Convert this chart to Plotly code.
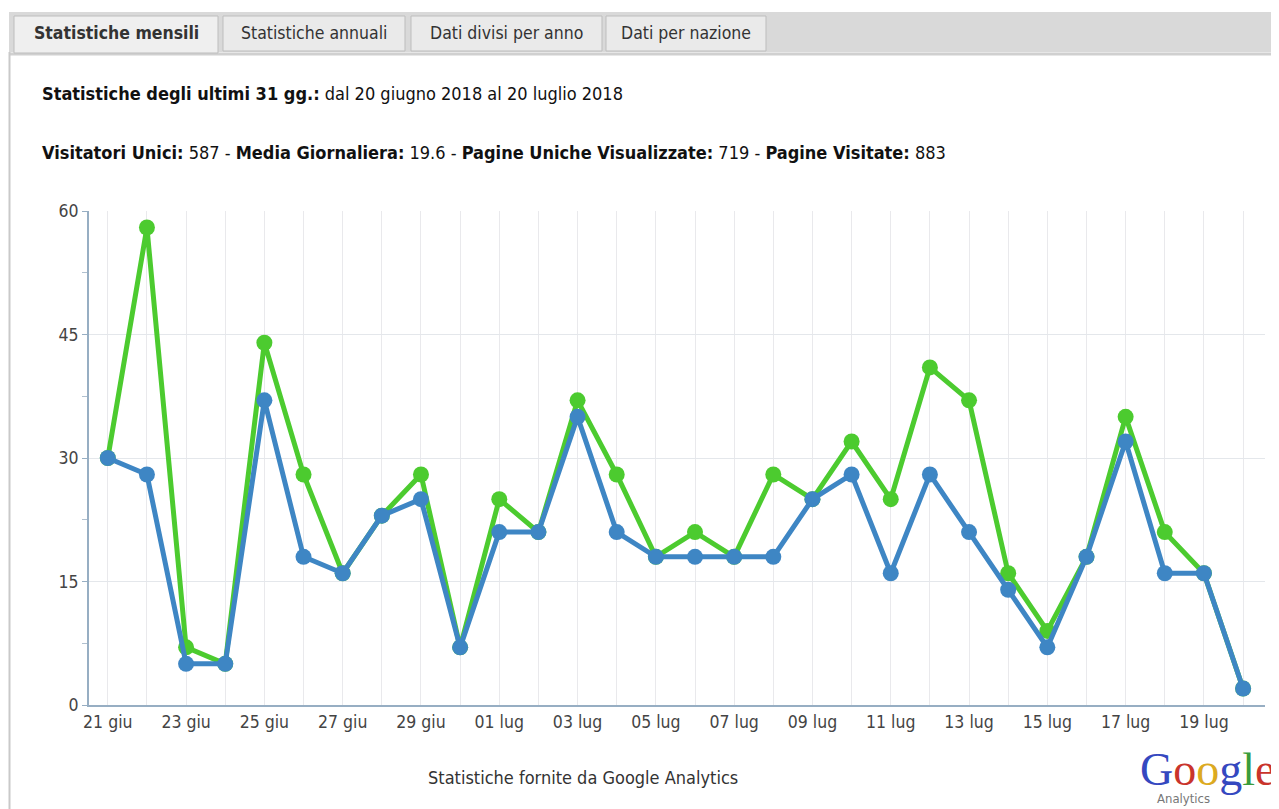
import plotly.graph_objects as go

# ---- data ----
dates = ["21 giu", "22 giu", "23 giu", "24 giu", "25 giu", "26 giu", "27 giu", "28 giu", "29 giu", "30 giu",
         "01 lug", "02 lug", "03 lug", "04 lug", "05 lug", "06 lug", "07 lug", "08 lug", "09 lug", "10 lug",
         "11 lug", "12 lug", "13 lug", "14 lug", "15 lug", "16 lug", "17 lug", "18 lug", "19 lug", "20 lug"]
visitatori_unici = [30, 28, 5, 5, 37, 18, 16, 23, 25, 7,
                    21, 21, 35, 21, 18, 18, 18, 18, 25, 28,
                    16, 28, 21, 14, 7, 18, 32, 16, 16, 2]
pagine_uniche = [30, 58, 7, 5, 44, 28, 16, 23, 28, 7,
                 25, 21, 37, 28, 18, 21, 18, 28, 25, 32,
                 25, 41, 37, 16, 9, 18, 35, 21, 16, 2]
y_ticks = [0, 15, 30, 45, 60]
tabs = ["Statistiche mensili", "Statistiche annuali", "Dati divisi per anno", "Dati per nazione"]

GREEN = "#4ccb2f"
BLUE = "#3e86c4"

OFF = 8  # page body margin
W, H = 1279 - OFF, 809 - OFF
L, R, T, B = 89 - OFF, 14, 211 - OFF, 104
PW, PH = W - L - R, H - T - B


def px(x):
    return (x - OFF - L) / PW


def py(y):
    return (H + OFF - B - y) / PH


idx = list(range(len(dates)))
ticktext = [d if i % 2 == 0 else "" for i, d in enumerate(dates)]

FONT = "DejaVu Sans Condensed, Liberation Sans Narrow, DejaVu Sans, sans-serif"

fig = go.Figure()
fig.add_trace(go.Scatter(x=idx, y=pagine_uniche, mode="lines+markers",
                         line=dict(color=GREEN, width=5), marker=dict(color=GREEN, size=16),
                         name="Pagine Uniche", hoverinfo="skip"))
fig.add_trace(go.Scatter(x=idx, y=visitatori_unici, mode="lines+markers",
                         line=dict(color=BLUE, width=5), marker=dict(color=BLUE, size=16),
                         name="Visitatori Unici", hoverinfo="skip"))

shapes = []
# tab bar
shapes.append(dict(type="rect", xref="paper", yref="paper", x0=px(9), x1=px(1290), y0=py(52), y1=py(12),
                   fillcolor="#d9d9d9", line=dict(width=0), layer="below"))
shapes.append(dict(type="line", xref="paper", yref="paper", x0=px(9), x1=px(1290), y0=py(54), y1=py(54),
                   line=dict(color="#d0d0d0", width=3), layer="below"))
# panel left border
shapes.append(dict(type="line", xref="paper", yref="paper", x0=px(9.5), x1=px(9.5), y0=py(52), y1=py(815),
                   line=dict(color="#c9c9c9", width=2), layer="below"))
tab_x = [(14, 218), (223, 405), (411, 602), (606, 766)]
for i, (a, b) in enumerate(tab_x):
    if i == 0:
        shapes.append(dict(type="rect", xref="paper", yref="paper", x0=px(a), x1=px(b), y0=py(53), y1=py(16),
                           fillcolor="#efefef", line=dict(color="#bdbdbd", width=1), layer="below"))
    else:
        shapes.append(dict(type="rect", xref="paper", yref="paper", x0=px(a), x1=px(b), y0=py(51), y1=py(16),
                           fillcolor="#eaeaea", line=dict(color="#bdbdbd", width=1), layer="below"))

annotations = []
for i, ((a, b), t) in enumerate(zip(tab_x, tabs)):
    txt = "<b>%s</b>" % t if i == 0 else t
    annotations.append(dict(xref="paper", yref="paper", x=px((a + b) / 2), y=py(33), text=txt,
                            showarrow=False, xanchor="center", yanchor="middle",
                            font=dict(family=FONT, size=17.5, color="#333333")))

annotations.append(dict(xref="paper", yref="paper", x=px(40), y=py(93),
                        text="<b>Statistiche degli ultimi 31 gg.:</b> dal 20 giugno 2018 al 20 luglio 2018",
                        showarrow=False, xanchor="left", yanchor="middle",
                        font=dict(family=FONT, size=18, color="#111111")))
annotations.append(dict(xref="paper", yref="paper", x=px(40), y=py(152),
                        text="<b>Visitatori Unici:</b> 587 - <b>Media Giornaliera:</b> 19.6 - "
                             "<b>Pagine Uniche Visualizzate:</b> 719 - <b>Pagine Visitate:</b> 883",
                        showarrow=False, xanchor="left", yanchor="middle",
                        font=dict(family=FONT, size=18, color="#111111")))
annotations.append(dict(xref="paper", yref="paper", x=px(583), y=py(777),
                        text="Statistiche fornite da Google Analytics",
                        showarrow=False, xanchor="center", yanchor="middle",
                        font=dict(family=FONT, size=18, color="#333333")))
# Google Analytics logo text
logo = ('<span style="color:#3548c0">G</span><span style="color:#c9342c">o</span>'
        '<span style="color:#dcaa21">o</span><span style="color:#3548c0">g</span>'
        '<span style="color:#3a9c3c">l</span><span style="color:#c9342c">e</span>')
annotations.append(dict(xref="paper", yref="paper", x=px(1207), y=py(769), text=logo,
                        showarrow=False, xanchor="center", yanchor="middle",
                        font=dict(family="Liberation Serif, DejaVu Serif, serif", size=46)))
annotations.append(dict(xref="paper", yref="paper", x=px(1183), y=py(798), text="Analytics",
                        showarrow=False, xanchor="center", yanchor="middle",
                        font=dict(family=FONT, size=13, color="#777777")))

fig.update_layout(
    width=W, height=H,
    margin=dict(l=L, r=R, t=T, b=B),
    paper_bgcolor="white", plot_bgcolor="white",
    showlegend=False,
    shapes=shapes,
    annotations=annotations,
    font=dict(family=FONT, size=17.5, color="#444444"),
)
fig.update_xaxes(range=[-0.48, 29.56], tickmode="array", tickvals=idx, ticktext=ticktext,
                 showgrid=True, gridcolor="#e9e9ec", gridwidth=1, zeroline=False,
                 showline=True, linecolor="#97aec3", linewidth=2, ticks="",
                 tickfont=dict(family=FONT, size=17.5, color="#444444"), fixedrange=True)
fig.update_yaxes(range=[0, 60], tickmode="array", tickvals=y_ticks,
                 showgrid=True, gridcolor="#e4e7eb", gridwidth=1, zeroline=False,
                 showline=True, linecolor="#97aec3", linewidth=2,
                 ticks="outside", ticklen=5, tickcolor="#97aec3",
                 minor=dict(tickvals=[7.5, 22.5, 37.5, 52.5], ticks="outside", ticklen=5, tickcolor="#b0c0cf",
                            showgrid=False),
                 tickfont=dict(family=FONT, size=17.5, color="#444444"), fixedrange=True)

fig.write_html("out.html")
